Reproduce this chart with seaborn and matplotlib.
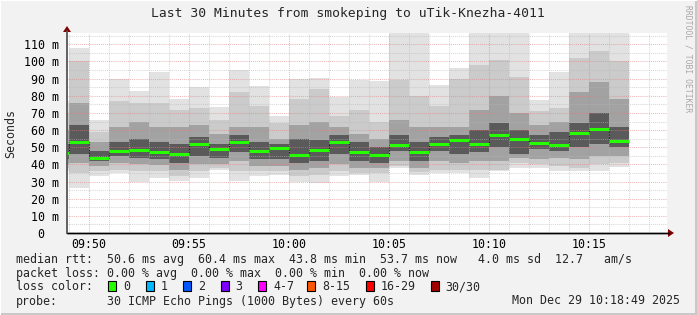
import matplotlib
matplotlib.use("Agg")
import matplotlib.pyplot as plt
import seaborn as sns
import pandas as pd
from matplotlib.patches import Rectangle, Polygon
from matplotlib.ticker import MultipleLocator, FixedLocator
from matplotlib.lines import Line2D

# ---------------- data ----------------
bar_times = ["09:48", "09:49", "09:50", "09:51", "09:52", "09:53", "09:54", "09:55",
             "09:56", "09:57", "09:58", "09:59", "10:00", "10:01", "10:02", "10:03",
             "10:04", "10:05", "10:06", "10:07", "10:08", "10:09", "10:10", "10:11",
             "10:12", "10:13", "10:14", "10:15", "10:16"]
rtt_max = [77, 108, 66, 89.5, 83, 94, 78, 85, 73.5, 95, 85.5, 68, 90, 90.5, 79.5,
           89, 88.5, 120, 120, 86, 96, 120, 120, 120, 77.5, 94, 120, 120, 120]
rtt_hi1 = [70, 100, 59, 77, 76, 76, 72, 73, 66, 82, 74, 64, 78, 84, 68,
           72, 65, 89, 80, 74, 90, 98, 101, 91, 71, 73, 102, 106, 100]
rtt_hi2 = [60, 76, 53, 62, 65, 62, 62, 63, 58, 62, 62, 55, 63, 65, 62,
           58, 55, 66, 62, 62, 62, 72, 80, 70, 63, 65, 82, 88, 78]
rtt_hi3 = [52, 63, 48, 53, 55, 53, 52, 56, 52, 57, 53, 52, 55, 54, 57,
           53, 50, 57, 53, 56, 57, 60, 64, 60, 57, 59, 64, 70, 62]
rtt_median = [46.5, 53.0, 44.0, 48.0, 48.5, 47.0, 46.0, 52.0, 49.0, 53.0, 48.0, 49.5,
              45.5, 48.5, 53.0, 47.5, 45.5, 51.5, 47.0, 52.0, 54.0, 52.0, 57.3, 55.0,
              52.5, 51.2, 58.2, 60.6, 53.7]
rtt_lo3 = [43, 46, 42, 45, 44, 43, 41, 45, 44, 47, 43, 43, 41, 42, 46,
           42, 41, 48, 42, 48, 46, 47, 50, 46, 49, 48, 50, 52, 50]
rtt_lo2 = [40, 41, 39, 41, 40, 39.5, 37, 40, 40, 42, 39, 39, 37, 38, 40,
           38, 38, 42, 38, 42, 41, 42, 42, 44, 43, 44, 43, 45, 45]
rtt_lo1 = [38, 35, 36, 37, 36, 36, 33, 36, 38, 36, 36, 36, 33, 34, 36,
           35, 35, 39, 35.5, 37, 37, 37, 37, 41, 40, 39, 38, 40, 41]
rtt_min = [36, 26, 33, 35, 30, 32, 30.5, 32, 36.5, 30.5, 33, 34, 30, 29, 33,
           34, 30, 37.7, 34, 35, 35, 32, 36, 38, 38, 36, 36, 36, 38.7]

y_tick_values = [0, 10, 20, 30, 40, 50, 60, 70, 80, 90, 100, 110]
y_tick_labels = ["0  ", "10 m", "20 m", "30 m", "40 m", "50 m", "60 m", "70 m",
                 "80 m", "90 m", "100 m", "110 m"]
x_tick_labels = ["09:50", "09:55", "10:00", "10:05", "10:10", "10:15"]

title = "Last 30 Minutes from smokeping to uTik-Knezha-4011"
line_rtt = "median rtt:  50.6 ms avg  60.4 ms max  43.8 ms min  53.7 ms now   4.0 ms sd  12.7   am/s"
line_loss = "packet loss: 0.00 % avg  0.00 % max  0.00 % min  0.00 % now"
loss_labels = ["0", "1", "2", "3", "4-7", "8-15", "16-29", "30/30"]
loss_colors = ["#26ff00", "#00b8ff", "#0059ff", "#7e00ff", "#ff00ff", "#ff5500", "#ff0000", "#a10000"]
probe_text = "30 ICMP Echo Pings (1000 Bytes) every 60s"
date_text = "Mon Dec 29 10:18:49 2025"

# ---------------- style ----------------
sns.set_theme(style="white")
plt.rcParams["font.family"] = ["DejaVu Sans Mono", "DejaVu Sans"]
plt.rcParams["lines.scale_dashes"] = False

W, H = 697, 315
fig = plt.figure(figsize=(W / 100, H / 100), dpi=100)
fig.patch.set_facecolor("#f2f2f2")


def fx(x):
    return x / W


def fy(y):
    return 1 - y / H


ax = fig.add_axes([fx(67), fy(233), 600 / W, 200 / H])
ax.set_facecolor("white")


def to_min(s):
    h, m = s.split(":")
    return int(h) * 60 + int(m) - 9 * 60


df = pd.DataFrame({
    "start": [to_min(t) for t in bar_times],
    "max": rtt_max, "hi1": rtt_hi1, "hi2": rtt_hi2, "hi3": rtt_hi3,
    "median": rtt_median,
    "lo3": rtt_lo3, "lo2": rtt_lo2, "lo1": rtt_lo1, "min": rtt_min,
})

bands = [("min", "max", "#e2e2e2"), ("lo1", "hi1", "#cbcbcb"),
         ("lo2", "hi2", "#a2a2a2"), ("lo3", "hi3", "#5a5a5a")]
for lo, hi, col in bands:
    ax.bar(df["start"], df[hi] - df[lo], bottom=df[lo], width=1.0, align="edge",
           color=col, linewidth=0, zorder=1)

# dark step connector of medians
step_x = list(df["start"]) + [df["start"].iloc[-1] + 1]
step_y = list(df["median"]) + [df["median"].iloc[-1]]
sns.lineplot(x=step_x, y=step_y, drawstyle="steps-post", color="#202020",
             linewidth=0.8, linestyle=(0, (1, 1)), ax=ax, zorder=3, sort=False)
# green median segments
ax.hlines(df["median"], df["start"], df["start"] + 1, color="#26ff00",
          linewidth=2.2, zorder=4)

ax.set_xlim(48.9, 78.9)
ax.set_ylim(0, 116.6)

# ticks and grid
ax.xaxis.set_major_locator(FixedLocator([to_min(t) for t in x_tick_labels]))
ax.set_xticklabels(x_tick_labels)
ax.xaxis.set_minor_locator(MultipleLocator(1))
ax.yaxis.set_major_locator(FixedLocator(y_tick_values))
ax.set_yticklabels(y_tick_labels)
ax.yaxis.set_minor_locator(MultipleLocator(5))
ax.tick_params(axis="both", which="both", length=0, labelsize=8.4, colors="black")
ax.tick_params(axis="y", pad=5.5)
ax.tick_params(axis="x", pad=3.5)
ax.set_axisbelow(False)
ax.grid(which="major", color="#e08080", alpha=0.55, linewidth=0.75, linestyle=(0, (0.75, 0.75)))
ax.grid(which="minor", color="#b8b8b8", alpha=0.55, linewidth=0.75, linestyle=(0, (0.75, 0.75)))

for s in ["top", "right"]:
    ax.spines[s].set_visible(False)
ax.spines["left"].set_color("#606060")
ax.spines["left"].set_linewidth(1.2)
ax.spines["bottom"].set_color("black")
ax.spines["bottom"].set_linewidth(1.0)

# axis extensions with arrows
fig.add_artist(Line2D([fx(67), fx(669)], [fy(233), fy(233)], color="black", lw=1.0))
fig.add_artist(Polygon([(fx(668), fy(229)), (fx(674), fy(233)), (fx(668), fy(237))],
                       closed=True, color="#800000", lw=0))
fig.add_artist(Line2D([fx(67), fx(67)], [fy(233), fy(31)], color="#606060", lw=1.2))
fig.add_artist(Polygon([(fx(63), fy(32)), (fx(67), fy(26)), (fx(71), fy(32))],
                       closed=True, color="#800000", lw=0))

# texts
fig.text(fx(348), fy(13), title, ha="center", va="center", fontsize=9.4)
fig.text(fx(11), fy(133), "Seconds", rotation=90, ha="center", va="center", fontsize=8.4)
fig.text(fx(16), fy(259), line_rtt, ha="left", va="center", fontsize=8.4)
fig.text(fx(16), fy(273), line_loss, ha="left", va="center", fontsize=8.4)
fig.text(fx(16), fy(286.5), "loss color:", ha="left", va="center", fontsize=8.4)
box_x = [108, 146, 183, 220.5, 258, 307, 365.5, 430.5]
for bx, lab, col in zip(box_x, loss_labels, loss_colors):
    fig.add_artist(Rectangle((fx(bx), fy(291)), 8 / W, 10 / H, facecolor=col,
                             edgecolor="black", lw=0.8))
    fig.text(fx(bx + 15), fy(286.5), lab, ha="left", va="center", fontsize=8.4)
fig.text(fx(16), fy(301), "probe:", ha="left", va="center", fontsize=8.4)
fig.text(fx(107), fy(301), probe_text, ha="left", va="center", fontsize=8.4)
fig.text(fx(680), fy(301), date_text, ha="right", va="center", fontsize=8.4)
fig.text(fx(688), fy(5), "RRDTOOL / TOBI OETIKER", rotation=270, ha="center", va="top",
         fontsize=5.8, color="#a8a8a8")

# frame
fig.add_artist(Rectangle((0, fy(315)), 1, 2 / H, color="#c8c8c8", lw=0))
fig.add_artist(Rectangle((fx(695), 0), 2 / W, 1, color="#c8c8c8", lw=0))
fig.add_artist(Rectangle((0, fy(1)), 1, 1 / H, color="#ffffff", lw=0))
fig.add_artist(Rectangle((0, 0), 1 / W, 1, color="#ffffff", lw=0))

fig.savefig("out.png", dpi=100, facecolor=fig.get_facecolor())
